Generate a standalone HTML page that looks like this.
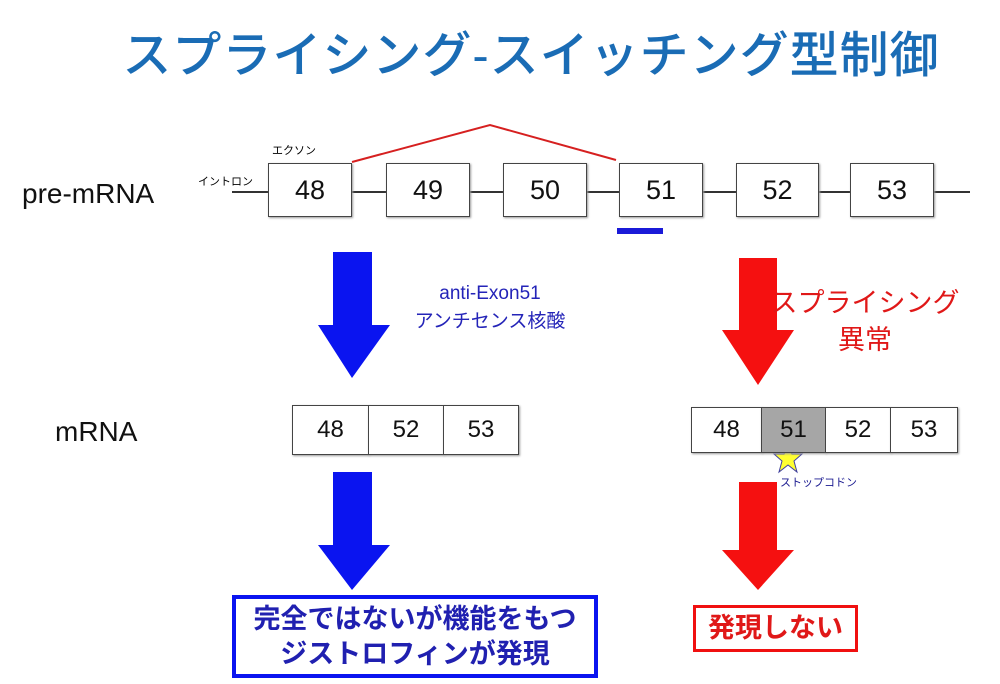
<!DOCTYPE html>
<html><head><meta charset="utf-8"><style>
body{margin:0;width:1000px;height:684px;background:#fff;position:relative;overflow:hidden;font-family:"Liberation Sans","Noto Sans CJK JP",sans-serif}
.a{position:absolute}
.box{position:absolute;border:1.5px solid #444;box-sizing:border-box;background:#fff;display:flex;align-items:center;justify-content:center;font-size:27px;color:#111;box-shadow:1px 1px 2px #999}
</style></head><body>
<div class="a" style="left:0;width:1062px;top:16px;text-align:center;font-size:49px;color:#1a6cb5;letter-spacing:1px;font-weight:500">スプライシング-スイッチング型制御</div>
<div class="a" style="left:22px;top:178px;font-size:28px;color:#111">pre-mRNA</div>
<div class="a" style="left:55px;top:416px;font-size:28px;color:#111">mRNA</div>
<svg class="a" style="left:0;top:0" width="1000" height="684">
<line x1="232" y1="192" x2="970" y2="192" stroke="#333" stroke-width="2"/>
<polyline points="352,162 490,125 616,160" fill="none" stroke="#d62020" stroke-width="2"/>
<rect x="617" y="228" width="46" height="6" fill="#1a1ad8"/>
<polygon points="333,252 372,252 372,325 390,325 352,378 318,325 333,325" fill="#0a14f0"/>
<polygon points="739,258 777,258 777,330 794,330 758,385 722,330 739,330" fill="#f51010"/>
<polygon points="333,472 372,472 372,545 390,545 352,590 318,545 333,545" fill="#0a14f0"/>
<polygon points="739,482 777,482 777,550 794,550 758,590 722,550 739,550" fill="#f51010"/>
<polygon points="788,444 792,454 802,454 794,461 797,472 788,465 779,472 782,461 774,454 784,454" fill="#ffff30" stroke="#4040a0" stroke-width="1"/>
</svg>
<div class="box" style="left:268px;top:163px;width:84px;height:54px">48</div>
<div class="box" style="left:386px;top:163px;width:84px;height:54px">49</div>
<div class="box" style="left:503px;top:163px;width:84px;height:54px">50</div>
<div class="box" style="left:619px;top:163px;width:84px;height:54px">51</div>
<div class="box" style="left:736px;top:163px;width:83px;height:54px">52</div>
<div class="box" style="left:850px;top:163px;width:84px;height:54px">53</div>
<div class="a" style="left:272px;top:142px;font-size:11px">エクソン</div>
<div class="a" style="left:198px;top:173px;font-size:11px">イントロン</div>
<div class="a" style="left:390px;top:280px;width:200px;text-align:center;font-size:19px;color:#2424b8;line-height:28px">anti-Exon51<br>アンチセンス核酸</div>
<div class="a" style="left:762px;top:285px;width:206px;text-align:center;font-size:27px;color:#e01818;line-height:37px">スプライシング<br>異常</div>
<div class="box" style="left:292px;top:405px;width:77px;height:50px;font-size:24px">48</div>
<div class="box" style="left:368px;top:405px;width:76px;height:50px;font-size:24px">52</div>
<div class="box" style="left:443px;top:405px;width:76px;height:50px;font-size:24px">53</div>
<div class="box" style="left:691px;top:407px;width:71px;height:46px;font-size:24px">48</div>
<div class="box" style="left:761px;top:407px;width:65px;height:46px;font-size:24px;background:#a6a6a6">51</div>
<div class="box" style="left:825px;top:407px;width:66px;height:46px;font-size:24px">52</div>
<div class="box" style="left:890px;top:407px;width:68px;height:46px;font-size:24px">53</div>
<div class="a" style="left:780px;top:474px;font-size:11px;color:#1a1a90">ストップコドン</div>
<div class="a" style="left:232px;top:595px;width:366px;height:83px;border:4px solid #0a14f0;box-sizing:border-box;text-align:center;font-size:27px;font-weight:bold;color:#2020b0;line-height:35px;padding-top:3px">完全ではないが機能をもつ<br>ジストロフィンが発現</div>
<div class="a" style="left:693px;top:605px;width:165px;height:47px;border:3px solid #f01010;box-sizing:border-box;text-align:center;font-size:27px;font-weight:bold;color:#e01818;line-height:40px">発現しない</div>
</body></html>
